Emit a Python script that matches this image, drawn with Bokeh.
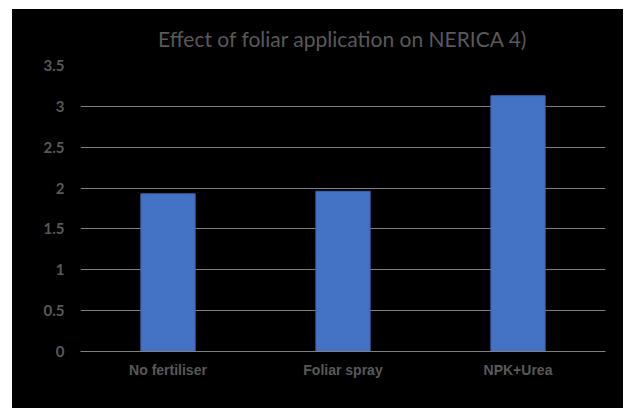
from bokeh.plotting import figure
from bokeh.models import Range1d, FixedTicker
from bokeh.embed import file_html
from bokeh.resources import INLINE

# Yield response of NERICA 4 to fertiliser treatments
treatments = ["No fertiliser", "Foliar spray", "NPK+Urea"]
yields = [1.93, 1.96, 3.13]

y_ticks = [0, 0.5, 1, 1.5, 2, 2.5, 3, 3.5]
y_tick_labels = ["0", "0.5", "1", "1.5", "2", "2.5", "3", "3.5"]

GREY_TEXT = "#595959"
GRID = "#7f7f7f"

p = figure(
    x_range=treatments,
    y_range=Range1d(0, 3.5),
    width=611,
    height=399,
    output_backend="svg",
    toolbar_location=None,
    title="Effect of foliar application on NERICA 4)",
)
p.margin = (9, 5, 0, 12)
p.styles = {"background-color": "black"}
p.background_fill_color = "black"
p.border_fill_color = "black"
p.outline_line_color = None
p.min_border_left = 68
p.min_border_right = 18
p.min_border_top = 56
p.min_border_bottom = 57

p.vbar(x=treatments, top=yields, width=0.31,
       fill_color="#4472C4", line_color="#3A64AF", line_width=1)

# title
p.title.align = "center"
p.title.text_color = GREY_TEXT
p.title.text_font = "Lato"
p.title.text_font_style = "normal"
p.title.text_font_size = "21px"
p.title.offset = 8
p.title.standoff = 29

# y axis
p.yaxis.ticker = FixedTicker(ticks=y_ticks)
p.yaxis.major_label_overrides = {t: lab for t, lab in zip(y_ticks, y_tick_labels)}
p.yaxis.axis_line_color = None
p.yaxis.major_tick_line_color = None
p.yaxis.minor_tick_line_color = None
p.yaxis.major_tick_out = 0
p.yaxis.major_label_standoff = 16
p.yaxis.major_label_text_color = GREY_TEXT
p.yaxis.major_label_text_font = "Lato"
p.yaxis.major_label_text_font_style = "bold"
p.yaxis.major_label_text_font_size = "15px"

# x axis
p.xaxis.axis_line_color = GRID
p.xaxis.axis_line_width = 1.2
p.xaxis.major_tick_line_color = None
p.xaxis.minor_tick_line_color = None
p.xaxis.major_tick_out = 0
p.xaxis.major_label_standoff = 10
p.xaxis.major_label_text_color = GREY_TEXT
p.xaxis.major_label_text_font = "Liberation Sans"
p.xaxis.major_label_text_font_style = "bold"
p.xaxis.major_label_text_font_size = "14px"

# grid: horizontal lines only
p.xgrid.visible = False
p.ygrid.grid_line_color = GRID
p.ygrid.grid_line_width = 1.2

open("out.html", "w").write(file_html(p, INLINE))
